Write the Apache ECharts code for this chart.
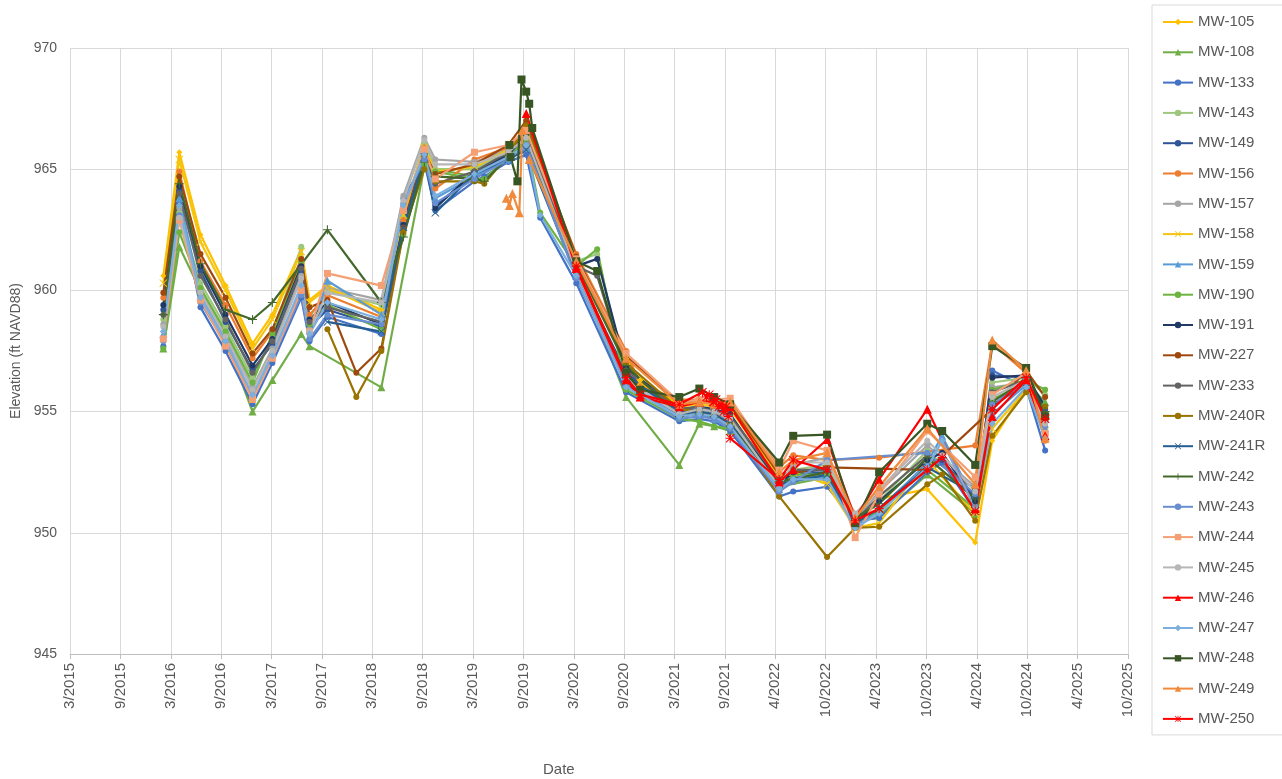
<!DOCTYPE html>
<html>
<head>
<meta charset="utf-8">
<title>Groundwater Elevation</title>
<script src="https://cdn.jsdelivr.net/npm/echarts@6/dist/echarts.min.js"></script>
<style>
  html, body { margin: 0; padding: 0; background: #ffffff; }
  #chart { width: 1282px; height: 779px; }
</style>
</head>
<body>
<div id="chart"></div>
<script>
// ---- Data ---------------------------------------------------------------
const _ = null;

// Common sampling dates (monitoring events)
const dates = [
  '2016-02-29','2016-04-27','2016-07-13','2016-10-12','2017-01-18','2017-03-31',
  '2017-07-14','2017-08-13','2017-10-17','2018-01-30','2018-05-01','2018-07-20',
  '2018-10-04','2018-11-13','2019-04-04','2019-05-10','2019-08-05','2019-10-09',
  '2019-11-29','2020-04-08','2020-06-23','2020-10-06','2020-11-26','2021-04-17',
  '2021-06-29','2021-08-22','2021-10-19','2022-04-15','2022-06-05','2022-10-06',
  '2023-01-16','2023-04-13','2023-10-05','2023-11-28','2024-03-27','2024-05-28',
  '2024-09-28','2024-12-06'
];

const wellNames = ['MW-105','MW-108','MW-133','MW-143','MW-149','MW-156','MW-157','MW-158',
  'MW-159','MW-190','MW-191','MW-227','MW-233','MW-240R','MW-241R','MW-242','MW-243',
  'MW-244','MW-245','MW-246','MW-247','MW-248','MW-249','MW-250'];

// Groundwater elevations (ft NAVD88), one value per common date
const mw105 = [960.6,965.7,962.3,960.2,957.8,959.0,961.7,959.6,960.2,_,959.2,963.2,966.0,965.0,965.0,_,965.9,966.6,_,961.2,_,957.2,956.3,955.3,955.4,955.3,955.2,952.3,952.6,952.1,950.3,951.4,951.8,_,949.6,953.8,956.0,954.3];
const mw108 = [957.6,961.8,960.0,958.0,955.0,956.3,958.2,957.7,_,_,956.0,_,965.1,965.0,964.7,_,965.4,966.1,_,960.9,_,955.6,_,952.8,954.5,954.4,954.2,951.9,_,952.3,950.4,950.7,952.4,_,950.8,955.5,956.2,955.4];
const mw133 = [957.7,963.6,959.3,957.5,955.3,957.0,959.7,957.9,958.9,_,958.2,963.8,965.3,963.3,964.5,964.7,965.3,965.6,963.0,960.3,_,955.8,_,954.6,954.7,954.6,954.2,951.5,951.7,951.9,950.5,950.6,952.5,952.9,950.9,956.7,956.0,953.4];
const mw143 = [958.8,963.2,960.3,958.5,956.4,958.1,961.8,958.9,960.0,_,959.4,963.0,966.1,965.0,965.0,_,965.7,966.3,_,961.2,961.5,956.5,_,955.0,955.0,954.9,954.6,952.1,952.6,952.8,950.6,951.3,953.4,_,951.5,956.2,956.4,955.7];
const mw149 = [959.2,964.1,960.8,958.7,956.7,957.8,960.8,958.5,959.2,_,958.5,962.8,965.6,963.5,964.8,_,965.5,966.2,_,960.8,_,956.6,_,955.0,955.1,955.0,954.7,951.9,952.4,952.5,950.3,951.0,952.8,953.0,951.4,956.5,956.4,955.1];
const mw156 = [959.7,964.9,961.2,959.4,957.2,958.3,961.1,959.0,959.8,_,958.9,962.9,965.9,964.2,965.4,_,965.9,966.7,_,961.5,_,957.5,956.1,955.5,955.5,955.4,955.4,952.7,953.2,953.0,_,953.1,_,_,953.6,957.8,956.6,953.8];
const mw157 = [958.6,963.4,960.0,958.2,956.0,957.6,960.6,958.4,960.1,_,959.6,963.9,966.3,965.4,965.3,_,965.8,966.4,_,960.9,_,956.4,_,954.9,955.0,954.9,954.6,952.0,952.8,953.1,950.5,951.7,953.6,_,951.9,956.0,956.2,954.6];
const mw158 = [960.3,965.4,962.0,960.0,957.6,958.8,961.6,959.5,960.1,_,959.1,963.1,965.9,964.9,965.1,_,965.8,966.5,_,961.1,_,957.1,956.2,955.2,955.3,955.2,955.1,952.2,952.5,952.0,950.2,950.4,953.0,_,950.8,954.3,955.9,954.2];
const mw159 = [958.2,963.8,959.8,958.0,955.6,957.4,960.0,958.1,960.4,_,959.0,963.4,965.5,963.8,964.7,_,965.4,965.9,_,960.7,_,956.2,_,954.8,954.9,954.7,954.5,951.8,952.3,952.3,950.3,950.9,952.9,954.0,951.2,954.9,956.1,954.3];
const mw190 = [957.6,962.4,960.1,958.3,956.2,958.2,961.2,958.6,959.4,_,958.4,962.3,965.2,964.9,964.6,964.6,965.5,966.2,963.2,961.0,961.7,955.9,_,954.7,954.6,954.4,954.3,952.0,952.4,952.4,950.5,950.9,952.6,_,951.0,955.9,956.3,955.9];
const mw191 = [959.4,964.3,961.0,959.0,956.9,958.0,961.0,958.8,959.5,_,958.6,962.7,965.6,963.4,964.9,_,965.6,966.4,_,961.0,961.3,956.8,_,955.1,955.2,955.1,954.9,952.0,952.5,952.6,950.4,951.3,953.0,953.3,951.3,956.4,956.5,955.2];
const mw227 = [959.9,964.7,961.5,959.7,957.4,958.4,961.3,959.3,959.6,956.6,957.6,962.6,965.7,964.8,965.2,_,966.0,967.0,_,961.4,_,957.3,_,955.4,955.5,955.4,955.3,952.4,_,952.7,_,_,952.6,_,_,955.1,956.7,955.6];
const mw233 = [959.0,964.0,960.6,958.8,956.6,957.9,960.9,958.7,959.3,_,958.7,962.5,965.5,964.4,964.9,_,965.7,966.5,_,961.0,960.6,956.7,_,955.1,955.2,955.0,954.8,952.2,952.6,952.6,950.5,951.5,953.2,_,951.8,955.8,956.3,954.9];
const mw240R = [_,_,_,_,_,_,_,_,958.4,955.6,957.5,962.4,965.0,964.5,964.5,964.4,965.6,966.8,_,961.3,_,957.0,_,955.1,955.0,954.8,954.5,951.5,_,949.0,950.2,950.25,952.0,952.4,950.5,954.0,955.8,955.2];
const mw241R = [_,_,_,_,_,_,_,_,958.7,_,958.3,962.6,965.5,963.2,964.8,_,965.4,965.8,_,960.6,_,956.5,_,954.9,955.0,954.9,954.5,952.0,_,952.4,950.4,951.0,952.7,_,951.6,955.2,956.2,954.7];
const mw242 = [959.0,964.4,961.1,959.2,958.8,959.5,_,_,962.5,_,959.5,962.2,965.3,964.7,964.6,964.5,965.5,966.0,_,961.1,_,956.9,_,954.8,954.9,954.8,954.4,952.1,_,952.5,950.6,951.2,953.1,_,951.4,955.4,956.3,955.0];
const mw243 = [957.9,963.1,959.5,957.8,955.6,957.2,959.8,958.0,959.0,_,958.6,963.6,965.4,963.6,964.6,_,965.4,966.0,_,960.5,_,956.1,_,954.7,954.8,954.7,954.3,951.7,952.1,953.0,_,_,953.3,_,951.6,955.3,956.2,954.4];
const mw244 = [958.0,962.9,959.6,957.7,955.5,957.2,960.0,958.3,960.7,_,960.2,963.3,965.8,964.6,965.7,_,966.0,966.6,_,961.3,_,957.4,_,955.4,955.5,955.5,955.55,952.6,953.8,953.4,949.8,951.6,954.2,_,952.3,955.7,956.6,954.1];
const mw245 = [958.5,963.0,959.9,958.1,955.9,957.5,960.5,958.3,959.9,_,959.5,963.7,966.2,965.2,965.2,_,965.7,966.3,_,960.8,_,956.3,_,954.9,955.1,955.0,954.7,951.9,952.9,952.9,950.8,951.8,953.8,953.2,951.7,955.6,956.3,954.5];
const mw246 = [_,_,_,_,_,_,_,_,_,_,_,_,_,_,_,_,_,967.3,_,960.9,_,956.3,955.6,955.2,955.4,955.4,955.2,952.1,952.6,953.85,950.6,952.2,955.1,_,951.0,954.8,956.3,954.0];
const mw247 = [958.3,963.5,959.7,957.9,955.7,957.3,960.2,958.2,959.5,_,958.8,963.5,965.6,963.9,964.8,_,965.5,966.0,963.1,960.6,_,956.0,_,954.8,954.9,954.8,954.4,951.8,952.2,952.2,950.2,950.8,952.7,953.8,951.0,954.5,956.0,953.9];
const mw248 = [_,_,_,_,_,_,_,_,_,_,_,_,_,_,_,_,_,_,_,961.2,960.8,956.6,955.9,955.6,955.95,955.6,955.3,952.9,954.0,954.05,950.4,952.5,954.5,954.2,952.8,957.7,956.8,954.8];
const mw249 = [_,_,_,_,_,_,_,_,_,_,_,_,_,_,_,_,_,_,_,961.2,_,957.2,_,955.3,955.4,955.3,955.4,952.5,953.0,953.3,950.6,951.9,954.3,_,952.0,957.95,956.7,953.9];
const mw250 = [_,_,_,_,_,_,_,_,_,_,_,_,_,_,_,_,_,_,_,961.0,_,956.4,955.7,955.3,_,_,953.9,952.2,953.0,952.6,950.5,951.0,952.6,953.1,950.9,955.1,956.4,954.7];

// Additional readings for wells with more frequent measurements
const mw248ExtraDates  = ['2019-08-09','2019-08-13','2019-09-07','2019-09-22','2019-10-09','2019-10-20','2019-10-31'];
const mw248ExtraValues = [966.0, 965.5, 964.5, 968.7, 968.2, 967.7, 966.7];
const mw249ExtraDates  = ['2019-07-29','2019-08-09','2019-08-20','2019-09-14','2019-09-25','2019-10-20'];
const mw249ExtraValues = [963.8, 963.5, 964.0, 963.2, 966.6, 965.4];
const mw250ExtraDates  = ['2021-07-10','2021-07-25','2021-08-04','2021-08-18','2021-08-29','2021-09-08','2021-09-16','2021-09-26','2021-10-04','2021-10-12'];
const mw250ExtraValues = [955.8, 955.6, 955.7, 955.4, 955.5, 955.2, 955.3, 955.0, 955.2, 954.8];

// Axis settings
const yTicks = [945, 950, 955, 960, 965, 970];
const axisStart = '2015-03-27';   // first date tick
const tickDays = 183;             // date tick spacing, days
const tickCount = 21;

// ---- Styling --------------------------------------------------------------
const PLUS = 'path://M4.4,0H5.6V4.4H10V5.6H5.6V10H4.4V5.6H0V4.4H4.4Z';
const CROSS = 'path://M0.8,0L5,4.2L9.2,0L10,0.8L5.8,5L10,9.2L9.2,10L5,5.8L0.8,10L0,9.2L4.2,5L0,0.8Z';
const STAR = PLUS + ' ' + CROSS.replace('path://', '');

const styles = {
  'MW-105':  { color: '#FFC000', symbol: 'diamond', size: 6 },
  'MW-108':  { color: '#70AD47', symbol: 'triangle', size: 8 },
  'MW-133':  { color: '#4472C4', symbol: 'circle', size: 6 },
  'MW-143':  { color: '#9DC77F', symbol: 'circle', size: 6 },
  'MW-149':  { color: '#2F5597', symbol: 'circle', size: 6 },
  'MW-156':  { color: '#ED7D31', symbol: 'circle', size: 6 },
  'MW-157':  { color: '#A5A5A5', symbol: 'circle', size: 6 },
  'MW-158':  { color: '#F2C511', symbol: CROSS, size: 8 },
  'MW-159':  { color: '#5B9BD5', symbol: 'triangle', size: 8 },
  'MW-190':  { color: '#6DB33F', symbol: 'circle', size: 6 },
  'MW-191':  { color: '#203864', symbol: 'circle', size: 6 },
  'MW-227':  { color: '#9E480E', symbol: 'circle', size: 6 },
  'MW-233':  { color: '#636363', symbol: 'circle', size: 6 },
  'MW-240R': { color: '#997300', symbol: 'circle', size: 6 },
  'MW-241R': { color: '#255E91', symbol: CROSS, size: 8 },
  'MW-242':  { color: '#43682B', symbol: PLUS, size: 9 },
  'MW-243':  { color: '#698ED0', symbol: 'circle', size: 6 },
  'MW-244':  { color: '#F4A074', symbol: 'rect', size: 7 },
  'MW-245':  { color: '#B7B7B7', symbol: 'circle', size: 6 },
  'MW-246':  { color: '#FF0000', symbol: 'triangle', size: 9 },
  'MW-247':  { color: '#7CAFDD', symbol: 'diamond', size: 7 },
  'MW-248':  { color: '#375623', symbol: 'rect', size: 8 },
  'MW-249':  { color: '#F08A3C', symbol: 'triangle', size: 9 },
  'MW-250':  { color: '#FF0000', symbol: STAR, size: 9 }
};

const seriesValues = {
  'MW-105': mw105, 'MW-108': mw108, 'MW-133': mw133, 'MW-143': mw143, 'MW-149': mw149,
  'MW-156': mw156, 'MW-157': mw157, 'MW-158': mw158, 'MW-159': mw159, 'MW-190': mw190,
  'MW-191': mw191, 'MW-227': mw227, 'MW-233': mw233, 'MW-240R': mw240R, 'MW-241R': mw241R,
  'MW-242': mw242, 'MW-243': mw243, 'MW-244': mw244, 'MW-245': mw245, 'MW-246': mw246,
  'MW-247': mw247, 'MW-248': mw248, 'MW-249': mw249, 'MW-250': mw250
};
const extras = {
  'MW-248': [mw248ExtraDates, mw248ExtraValues],
  'MW-249': [mw249ExtraDates, mw249ExtraValues],
  'MW-250': [mw250ExtraDates, mw250ExtraValues]
};

// ---- Date helpers -------------------------------------------------------
const DAY = 86400000;
function utc(s) { const p = s.split('-').map(Number); return Date.UTC(p[0], p[1] - 1, p[2]); }
const T0 = utc(axisStart);
function dayOf(s) { return Math.round((utc(s) - T0) / DAY); }
function fmtTick(v) {
  const d = new Date(T0 + v * DAY);
  return (d.getUTCMonth() + 1) + '/' + d.getUTCFullYear();
}

function buildPoints(name) {
  const pts = [];
  seriesValues[name].forEach((v, i) => { if (v !== null) pts.push([dayOf(dates[i]), v]); });
  if (extras[name]) {
    const [ds, vs] = extras[name];
    ds.forEach((d, i) => pts.push([dayOf(d), vs[i]]));
  }
  pts.sort((a, b) => a[0] - b[0]);
  return pts;
}

const FONT = '"Liberation Sans", Arial, sans-serif';
const TEXT = '#595959';

const series = wellNames.map(name => {
  const st = styles[name];
  return {
    name: name,
    type: 'line',
    data: buildPoints(name),
    symbol: st.symbol,
    symbolSize: st.size,
    showSymbol: true,
    itemStyle: { color: st.color, borderWidth: 0 },
    lineStyle: { color: st.color, width: 2.2 },
    emphasis: { disabled: true },
    silent: true
  };
});

const chart = echarts.init(document.getElementById('chart'), null, { renderer: 'canvas' });
chart.setOption({
  animation: false,
  backgroundColor: '#ffffff',
  textStyle: { fontFamily: FONT },
  grid: { left: 70, right: 154, top: 48, bottom: 125, containLabel: false, outerBoundsMode: 'none' },
  xAxis: {
    type: 'value',
    min: 0,
    max: tickDays * tickCount,
    interval: tickDays,
    axisLine: { show: true, lineStyle: { color: '#BFBFBF', width: 1 } },
    axisTick: { show: true, length: 5, lineStyle: { color: '#BFBFBF' } },
    splitLine: { show: true, lineStyle: { color: '#D9D9D9', width: 1 } },
    axisLabel: {
      rotate: 90, margin: 9, color: TEXT, fontSize: 15, fontFamily: FONT,
      showMinLabel: true, showMaxLabel: true, hideOverlap: false,
      formatter: fmtTick
    }
  },
  yAxis: {
    type: 'value',
    min: yTicks[0],
    max: yTicks[yTicks.length - 1],
    interval: yTicks[1] - yTicks[0],
    name: 'Elevation (ft NAVD88)',
    nameLocation: 'middle',
    nameGap: 45,
    nameTextStyle: { color: TEXT, fontSize: 14, fontFamily: FONT },
    axisLine: { show: false },
    axisTick: { show: false },
    splitLine: { show: true, lineStyle: { color: '#D9D9D9', width: 1 } },
    axisLabel: { color: TEXT, fontSize: 14, margin: 13, fontFamily: FONT }
  },
  legend: {
    orient: 'vertical',
    left: 1152,
    top: 5,
    padding: [9, 22, 8, 10],
    itemWidth: 30,
    itemHeight: 8,
    itemGap: 14.3,
    selectedMode: false,
    borderColor: '#D9D9D9',
    borderWidth: 1,
    textStyle: { color: TEXT, fontSize: 15, lineHeight: 16, fontFamily: FONT },
    data: wellNames
  },
  graphic: [{
    type: 'text',
    left: 559 - 16,
    top: 762,
    style: { text: 'Date', fill: TEXT, font: '15px ' + FONT }
  }],
  series: series
});
</script>
</body>
</html>
